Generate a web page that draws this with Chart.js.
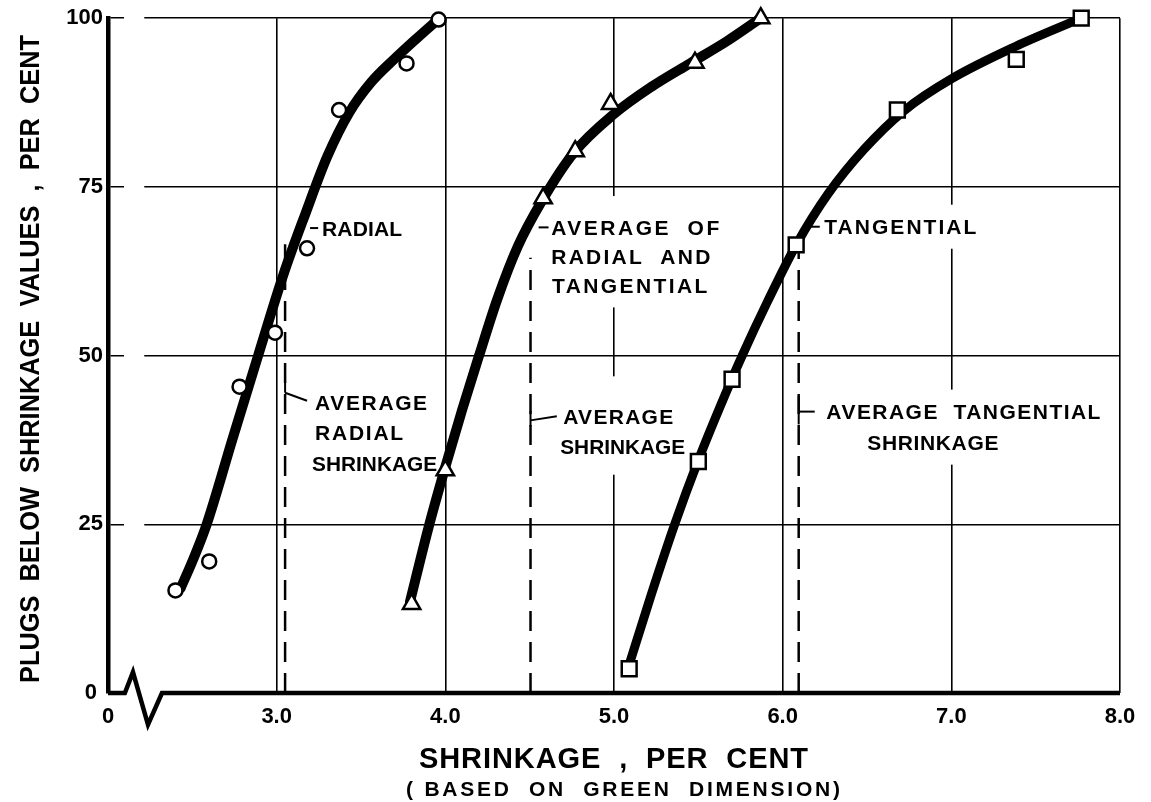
<!DOCTYPE html>
<html>
<head>
<meta charset="utf-8">
<script src="https://cdn.jsdelivr.net/npm/chart.js@4.4.1/dist/chart.umd.min.js"></script>
<style>
  html, body { margin: 0; padding: 0; background: #fff; }
  #wrap { width: 1151px; height: 802px; }
</style>
</head>
<body>
<div id="wrap"><canvas id="chart" width="1151" height="802"></canvas></div>
<script>
// ---- values ----
// plotted points (shrinkage %, plugs below %)
const radialPtsX = [2.40, 2.60, 2.78, 2.99, 3.18, 3.37, 3.77, 3.96];
const radialPtsY = [15.2, 19.5, 45.4, 53.4, 65.9, 86.4, 93.3, 99.8];
const avgPtsX = [3.80, 4.00, 4.58, 4.77, 4.98, 5.48, 5.87];
const avgPtsY = [13.2, 33.0, 73.3, 80.3, 87.3, 93.4, 100];
const tangPtsX = [5.09, 5.50, 5.70, 6.08, 6.68, 7.385, 7.77];
const tangPtsY = [3.6, 34.3, 46.5, 66.4, 86.4, 93.9, 100];

// the faired curves, traced along their centre
const radialCurveX = [2.43, 2.50, 2.585, 2.74, 2.89, 3.04, 3.17, 3.30, 3.43, 3.56, 3.70, 3.83, 3.965];
const radialCurveY = [15.5, 19.5, 25, 37.8, 50, 62, 71, 79.5, 86, 90.5, 94.0, 97.0, 100];
const avgCurveX = [3.79, 3.90, 4.00, 4.10, 4.20, 4.31, 4.43, 4.57, 4.76, 5.00, 5.22, 5.45, 5.67, 5.87];
const avgCurveY = [13.5, 24.5, 33.5, 42, 50, 58.5, 66.2, 72.8, 80, 85.8, 89.8, 93.3, 96.6, 100];
const tangCurveX = [5.085, 5.22, 5.36, 5.50, 5.63, 5.76, 5.91, 6.08, 6.27, 6.48, 6.72, 7.0, 7.38, 7.77];
const tangCurveY = [3.8, 14.5, 25, 34.5, 42.5, 50, 58, 66.4, 74, 80.5, 86.3, 91, 95.8, 100];

// averages (dashed verticals): x value and height reached
const avgLinesX = [3.05, 4.505, 6.095];
const avgLinesTop = [66.5, 64.5, 65.5];

// axes
const xTicks = [2, 3, 4, 5, 6, 7, 8];   // 2 is the broken origin, shown as "0"
const yTicks = [0, 25, 50, 75, 100];

// lettering on the plot: text, left/right x and y in data units
const notes = [
  { text: 'RADIAL', x1: 3.269, x2: 3.744, y: 68.8 },
  { text: 'AVERAGE  OF', x1: 4.628, x2: 5.624, y: 68.9, padTop: 32 },
  { text: 'RADIAL  AND', x1: 4.628, x2: 5.571, y: 64.6 },
  { text: 'TANGENTIAL', x1: 4.633, x2: 5.553, y: 60.4 },
  { text: 'TANGENTIAL', x1: 6.247, x2: 7.148, y: 69.1 },
  { text: 'AVERAGE', x1: 3.228, x2: 3.892, y: 43.0 },
  { text: 'RADIAL', x1: 3.228, x2: 3.750, y: 38.5 },
  { text: 'SHRINKAGE', x1: 3.210, x2: 3.951, y: 33.9 },
  { text: 'AVERAGE', x1: 4.699, x2: 5.351, y: 41.0, padTop: 40 },
  { text: 'SHRINKAGE', x1: 4.681, x2: 5.422, y: 36.5, padBottom: 28 },
  { text: 'AVERAGE  TANGENTIAL', x1: 6.259, x2: 7.884, y: 41.7 },
  { text: 'SHRINKAGE', x1: 6.502, x2: 7.279, y: 37.1 }
];
// short leader strokes tying lettering to lines: [x1, y1, x2, y2]
const leaders = [
  [3.198, 68.9, 3.246, 68.9],
  [3.05, 46.2, 3.05, 44.5], [3.05, 44.5, 3.18, 43.3],
  [4.553, 69.0, 4.612, 69.0],
  [4.505, 41.8, 4.505, 39.5], [4.505, 40.4, 4.661, 41.0],
  [6.158, 69.1, 6.22, 69.1],
  [6.095, 44.0, 6.095, 39.8], [6.095, 41.7, 6.19, 41.7]
];
// zig-zag break in the x axis near the origin
const axisBreak = [[2, 0], [2.10, 0], [2.148, 3.1], [2.237, -4.7], [2.32, 0], [8, 0]];
// the grid lines stop short of the y axis in the drawing
const gridGap = [2.095, 2.215];

const FONT = '"Liberation Sans", Arial, sans-serif';

function xy(xs, ys) { return xs.map((x, i) => ({ x, y: ys[i] })); }

// draw text stretched to a given width (letter spacing), vertically centred on caps
function fitText(ctx, text, x, yc, width, size) {
  ctx.font = `bold ${size}px ${FONT}`;
  ctx.letterSpacing = '0px';
  const w = ctx.measureText(text).width;
  const ls = (width - w) / Math.max(1, text.length - 1);
  ctx.textAlign = 'left';
  ctx.textBaseline = 'alphabetic';
  const yb = yc + size * 0.69 / 2;
  if (ls >= 0) {
    ctx.letterSpacing = ls + 'px';
    ctx.fillText(text, x, yb);
  } else {
    ctx.fillText(text, x, yb, width);
  }
  ctx.letterSpacing = '0px';
}

const figure = {
  id: 'figure',
  beforeDatasetsDraw(chart) {
    // lettering sits in cleared patches of the grid
    const { ctx, chartArea, scales: { x, y } } = chart;
    ctx.save();
    ctx.fillStyle = '#fff';
    notes.forEach(n => {
      const l = x.getPixelForValue(n.x1) - 4, r = x.getPixelForValue(n.x2) + 4;
      const yc = y.getPixelForValue(n.y);
      const t = n.padTop || 22, b = n.padBottom || 22;
      ctx.fillRect(l, yc - t, r - l, t + b);
    });
    const g1 = x.getPixelForValue(gridGap[0]), g2 = x.getPixelForValue(gridGap[1]);
    ctx.fillRect(g1, chartArea.top - 3, g2 - g1, chartArea.bottom - chartArea.top);
    ctx.restore();
  },
  afterDraw(chart) {
    const { ctx, scales: { x, y } } = chart;
    ctx.save();
    ctx.strokeStyle = '#000';
    ctx.fillStyle = '#000';
    ctx.lineJoin = 'miter';

    // x axis with break
    ctx.lineWidth = 4.5;
    ctx.beginPath();
    axisBreak.forEach(([vx, vy], i) => {
      const px = x.getPixelForValue(vx), py = y.getPixelForValue(vy);
      i ? ctx.lineTo(px, py) : ctx.moveTo(px, py);
    });
    ctx.stroke();

    // leaders
    ctx.lineWidth = 2;
    leaders.forEach(([a, b, c, d]) => {
      ctx.beginPath();
      ctx.moveTo(x.getPixelForValue(a), y.getPixelForValue(b));
      ctx.lineTo(x.getPixelForValue(c), y.getPixelForValue(d));
      ctx.stroke();
    });

    // lettering
    notes.forEach(n => {
      const l = x.getPixelForValue(n.x1), r = x.getPixelForValue(n.x2);
      fitText(ctx, n.text, l, y.getPixelForValue(n.y), r - l, 21);
    });

    // axis titles
    fitText(ctx, 'SHRINKAGE  ,  PER  CENT', 419, 758, 389, 29);
    fitText(ctx, '( BASED  ON  GREEN  DIMENSION)', 406, 789, 434, 21);
    ctx.translate(30, 359);
    ctx.rotate(-Math.PI / 2);
    fitText(ctx, 'PLUGS  BELOW  SHRINKAGE  VALUES  ,  PER  CENT', -324, 0, 648, 27);
    ctx.restore();
  }
};

const curveStyle = {
  showLine: true, pointRadius: 0, borderColor: '#000', borderWidth: 10,
  cubicInterpolationMode: 'monotone', borderCapStyle: 'round', clip: false, order: 1
};
const markStyle = {
  borderColor: '#000', backgroundColor: '#fff', borderWidth: 2.5, clip: false, order: 0
};
const dashStyle = {
  showLine: true, pointRadius: 0, borderColor: '#000', borderWidth: 2.5,
  borderDash: [20, 11], order: 2
};

new Chart(document.getElementById('chart'), {
  type: 'scatter',
  data: {
    datasets: [
      { ...markStyle, label: 'Radial', data: xy(radialPtsX, radialPtsY), pointStyle: 'circle', pointRadius: 7 },
      { ...markStyle, label: 'Average of radial and tangential', data: xy(avgPtsX, avgPtsY), pointStyle: 'triangle', pointRadius: 10 },
      { ...markStyle, label: 'Tangential', data: xy(tangPtsX, tangPtsY), pointStyle: 'rect', pointRadius: 10.5 },
      { ...curveStyle, label: 'Radial curve', data: xy(radialCurveX, radialCurveY) },
      { ...curveStyle, label: 'Average curve', data: xy(avgCurveX, avgCurveY) },
      { ...curveStyle, label: 'Tangential curve', data: xy(tangCurveX, tangCurveY), borderWidth: 9 },
      ...avgLinesX.map((v, i) => ({
        ...dashStyle, label: 'avg ' + i,
        data: [{ x: v, y: 0 }, { x: v, y: avgLinesTop[i] }]
      }))
    ]
  },
  options: {
    responsive: false,
    animation: false,
    devicePixelRatio: 1,
    layout: { padding: { top: 17, right: 31, left: 0, bottom: 0 } },
    plugins: { legend: { display: false }, tooltip: { enabled: false } },
    scales: {
      x: {
        type: 'linear', min: 2, max: 8,
        afterBuildTicks: s => { s.ticks = xTicks.map(v => ({ value: v })); },
        afterFit: s => { s.height = 109; },
        border: { display: false },
        grid: {
          color: c => (c.tick && c.tick.value === 2) ? 'rgba(0,0,0,0)' : '#000',
          lineWidth: 1.6, drawTicks: false
        },
        ticks: {
          padding: 11, color: '#000', maxRotation: 0, autoSkip: false,
          font: { family: FONT, size: 22, weight: 'bold' },
          callback: v => v === 2 ? '0' : v.toFixed(1)
        }
      },
      y: {
        type: 'linear', min: 0, max: 100,
        afterBuildTicks: s => { s.ticks = yTicks.map(v => ({ value: v })); },
        afterFit: s => { s.width = 108; },
        border: { display: true, color: '#000', width: 4.5 },
        grid: {
          color: c => (c.tick && c.tick.value === 0) ? 'rgba(0,0,0,0)' : '#000',
          lineWidth: 1.6, drawTicks: false
        },
        ticks: {
          padding: 5, color: '#000',
          font: { family: FONT, size: 22, weight: 'bold' },
          callback: v => v === 0 ? '0 ' : String(v)
        }
      }
    }
  },
  plugins: [figure]
});
</script>
</body>
</html>
